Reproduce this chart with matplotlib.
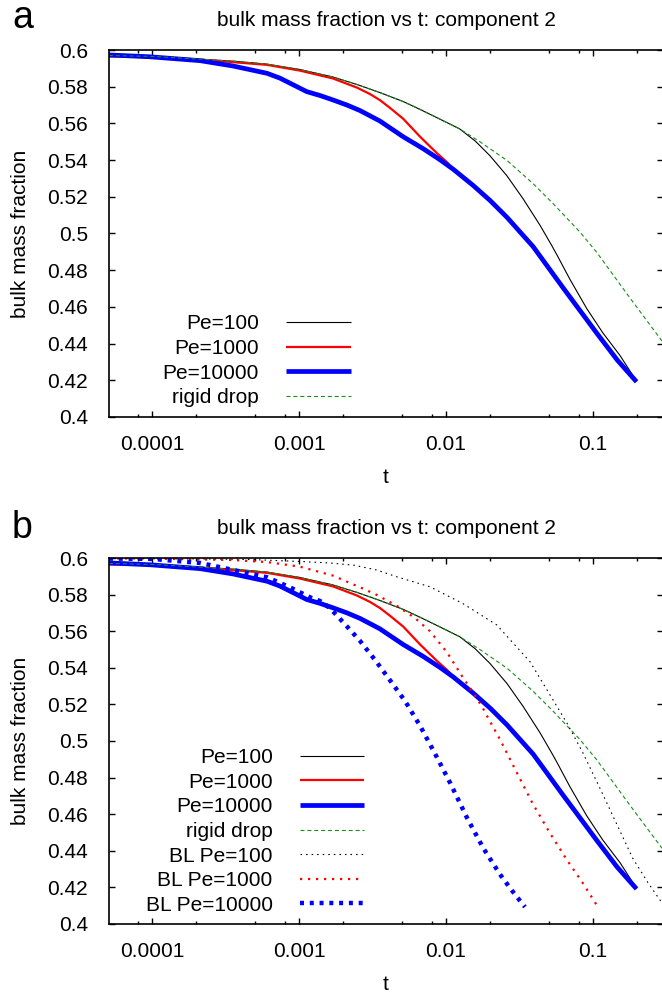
import numpy as np
import matplotlib
matplotlib.use("Agg")
import matplotlib.pyplot as plt
from matplotlib.ticker import LogLocator, FixedLocator, FuncFormatter

plt.rcParams['font.family'] = ['Liberation Sans', 'DejaVu Sans']

# --- data (t, bulk mass fraction) ---
# Pe=100 and rigid drop coincide until t ~ 0.012
t_common = [5.1e-5, 1e-4, 2.12e-4, 3.61e-4, 6.06e-4, 1.01e-3, 1.70e-3, 2.48e-3, 3.55e-3,
            5.12e-3, 6.67e-3, 8.69e-3, 0.01239]
v_common = [0.5970, 0.5965, 0.5950, 0.5939, 0.5923, 0.5894, 0.5853, 0.5812, 0.5768,
            0.5719, 0.5676, 0.5631, 0.5570]

t_pe100 = t_common + [0.0158, 0.0199, 0.0260, 0.0334, 0.0436, 0.0526, 0.0566, 0.0697,
                      0.0905, 0.1163, 0.1527, 0.1977]
v_pe100 = v_common + [0.5504, 0.5424, 0.5314, 0.5190, 0.5045, 0.4932, 0.4886, 0.4750,
                      0.4592, 0.4460, 0.4335, 0.4195]

t_rigid = t_common + [0.0170, 0.0260, 0.0391, 0.0535, 0.0815, 0.1056, 0.1787, 0.2946]
v_rigid = v_common + [0.5500, 0.5398, 0.5272, 0.5163, 0.5008, 0.4899, 0.4648, 0.4414]

t_pe10000 = [5.1e-5, 9.7e-5, 2.12e-4, 3.55e-4, 6.06e-4, 7.4e-4, 9.1e-4, 1.13e-3, 1.39e-3,
             1.70e-3, 2.12e-3, 2.6e-3, 3.55e-3, 5.12e-3, 7e-3, 9.1e-3, 0.0112, 0.0153,
             0.020, 0.026, 0.0391, 0.0626, 0.1056, 0.146, 0.1977]
v_pe10000 = [0.5973, 0.5963, 0.5942, 0.5913, 0.5873, 0.5847, 0.5811, 0.5773, 0.5752,
             0.5728, 0.5700, 0.5670, 0.5613, 0.5527, 0.5462, 0.5402, 0.5350, 0.5262,
             0.5179, 0.5088, 0.4929, 0.4704, 0.4459, 0.4311, 0.4192]

t_pe1000 = [5.1e-5, 1e-4, 2.12e-4, 6.06e-4, 1.01e-3, 1.70e-3, 2.48e-3, 3.04e-3, 3.55e-3,
            4.15e-3, 5.12e-3, 6.67e-3, 8.69e-3, 0.01017, 0.0112, 0.0153, 0.020, 0.026,
            0.0391, 0.0626, 0.1056, 0.146, 0.1977]
v_pe1000 = [0.5965, 0.5961, 0.5948, 0.5919, 0.5888, 0.5845, 0.5795, 0.5760, 0.5727,
            0.5685, 0.5625, 0.5527, 0.5437, 0.5388, 0.5352, 0.5262, 0.5179, 0.5088,
            0.4929, 0.4704, 0.4459, 0.4311, 0.4192]

# boundary layer (BL) estimates, panel b only
t_bl100 = [5.1e-5, 2.12e-4, 4.64e-4, 1.01e-3, 1.62e-3, 2.40e-3, 3.39e-3, 4.64e-3, 7.76e-3,
           0.01296, 0.02216, 0.0373, 0.0535, 0.0665, 0.0855, 0.1113, 0.1450, 0.1858,
           0.2346, 0.2946]
v_bl100 = [0.5997, 0.5995, 0.5992, 0.5981, 0.5973, 0.5960, 0.5934, 0.5897, 0.5843,
           0.5752, 0.5634, 0.5433, 0.5224, 0.5098, 0.4934, 0.4743, 0.4546, 0.4361,
           0.4230, 0.4115]

t_bl1000 = [5.1e-5, 1e-4, 3.55e-4, 6.06e-4, 1.01e-3, 1.70e-3, 2.72e-3, 3.39e-3, 4.64e-3,
            6.15e-3, 7.76e-3, 0.01013, 0.01296, 0.01522, 0.01781, 0.01985, 0.02321, 0.0302,
            0.0387, 0.0509, 0.0665, 0.0855, 0.1084]
v_bl1000 = [0.5998, 0.5997, 0.5989, 0.5978, 0.5953, 0.5904, 0.5833, 0.5798, 0.5738,
            0.5672, 0.5601, 0.5486, 0.5350, 0.5268, 0.5180, 0.5109, 0.5011, 0.4830,
            0.4661, 0.4497, 0.4350, 0.4222, 0.4091]

t_bl10000 = [5.1e-5, 1e-4, 2.12e-4, 3.55e-4, 6.06e-4, 8.67e-4, 1.19e-3, 1.39e-3, 1.62e-3,
             2.05e-3, 2.60e-3, 3.29e-3, 4.15e-3, 5.26e-3, 6.67e-3, 8.44e-3, 0.01067,
             0.01392, 0.01792, 0.02321, 0.0279, 0.03442]
v_bl10000 = [0.5997, 0.5995, 0.5973, 0.5935, 0.5895, 0.5840, 0.5785, 0.5765, 0.5727,
             0.5639, 0.5547, 0.5443, 0.5333, 0.5219, 0.5082, 0.4929, 0.4771,
             0.4579, 0.4415, 0.4273, 0.4186, 0.4093]

green = '#1a8c1a'

# (t, v, label, style)
main_series = [
    (t_pe100, v_pe100, 'Pe=100', dict(color='black', lw=0.8)),
    (t_pe1000, v_pe1000, 'Pe=1000', dict(color='#ff0000', lw=1.6)),
    (t_pe10000, v_pe10000, 'Pe=10000', dict(color='#0000ff', lw=3.4)),
    (t_rigid, v_rigid, 'rigid drop', dict(color=green, lw=0.8, ls=(0, (3.6, 2.6)))),
]
bl_series = [
    (t_bl100, v_bl100, 'BL Pe=100', dict(color='black', lw=0.8, ls=(0, (1.4, 3.6)))),
    (t_bl1000, v_bl1000, 'BL Pe=1000', dict(color='#ff0000', lw=1.6, ls=(0, (1.0, 2.6)))),
    (t_bl10000, v_bl10000, 'BL Pe=10000', dict(color='#0000ff', lw=3.2, ls=(0, (0.9, 1.3)))),
]

W, H = 662, 999
fig = plt.figure(figsize=(W / 100, H / 100), dpi=100)

FS = 15


def setup(ax, title):
    ax.set_xscale('log')
    ax.set_xlim(5.1e-5, 0.2993)
    ax.set_ylim(0.4, 0.6)
    ax.xaxis.set_major_locator(FixedLocator([1e-4, 1e-3, 1e-2, 1e-1]))
    ax.xaxis.set_minor_locator(LogLocator(base=10, subs=[2, 5, 8], numticks=20))
    ax.xaxis.set_major_formatter(FuncFormatter(lambda x, p: '%g' % x))
    ax.xaxis.set_minor_formatter(FuncFormatter(lambda x, p: ''))
    ax.set_yticks(np.arange(0.4, 0.6001, 0.02))
    ax.yaxis.set_major_formatter(FuncFormatter(lambda y, p: '%g' % round(y, 2)))
    ax.tick_params(which='both', direction='in', top=True, right=True, width=1.0)
    ax.tick_params(which='major', length=4.0)
    ax.tick_params(which='minor', length=2.2)
    ax.tick_params(axis='x', which='major', labelsize=FS, pad=13)
    ax.tick_params(axis='y', which='major', labelsize=FS, pad=15)
    for s in ax.spines.values():
        s.set_linewidth(1.2)
    ax.set_title(title, fontsize=FS, pad=17)
    ax.set_xlabel('t', fontsize=FS)
    ax.set_ylabel('bulk mass fraction', fontsize=FS)
    ax.xaxis.set_label_coords(0.5, -0.138)
    ax.yaxis.set_label_coords(-0.143, 0.5)


leg_kw = dict(loc='center right', frameon=False, markerfirst=False, fontsize=FS,
              handlelength=3.1, handletextpad=1.3, labelspacing=0.27, borderpad=0,
              borderaxespad=0)

# panel a
ax_a = fig.add_axes([109 / W, 1 - 417 / H, 554 / W, 367 / H])
setup(ax_a, 'bulk mass fraction vs t: component 2')
for t, v, lab, st in main_series:
    ax_a.plot(t, v, label=lab, solid_capstyle='butt', **st)
ax_a.legend(bbox_to_anchor=(0.436, 0.153), **leg_kw)

# panel b
ax_b = fig.add_axes([109 / W, 1 - 924 / H, 554 / W, 366 / H])
setup(ax_b, 'bulk mass fraction vs t: component 2')
for t, v, lab, st in main_series + bl_series:
    ax_b.plot(t, v, label=lab, solid_capstyle='butt', dash_capstyle='butt', **st)
ax_b.legend(bbox_to_anchor=(0.461, 0.253), **leg_kw)

fig.text(12 / W, 1 - 18 / H, 'a', fontsize=27, va='center', ha='left')
fig.text(12 / W, 1 - 528 / H, 'b', fontsize=27, va='center', ha='left')

fig.savefig('out.png', dpi=100)
